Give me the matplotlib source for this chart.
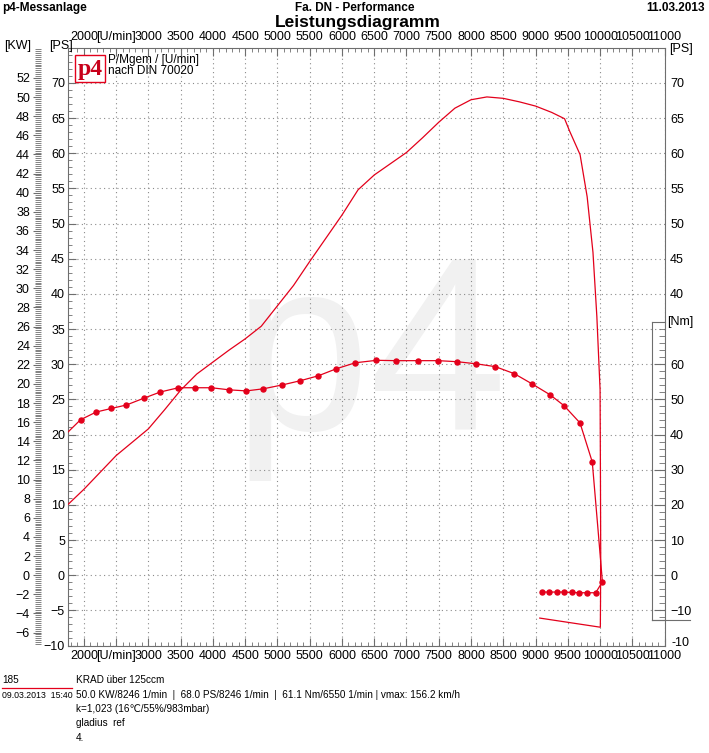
import numpy as np
import matplotlib
matplotlib.use("Agg")
import matplotlib.pyplot as plt
from matplotlib.ticker import MultipleLocator, FixedLocator, FuncFormatter
from matplotlib.lines import Line2D
from matplotlib.patches import Rectangle

plt.rcParams['font.family'] = ['Liberation Sans', 'DejaVu Sans']

# power curve [PS] over engine speed [1/min]
pwr_rpm = [1760, 2000, 2250, 2500, 2750, 3000, 3250, 3500, 3750, 4000, 4250, 4500,
           4750, 5000, 5250, 5500, 5750, 6000, 6250, 6500, 6750, 7000, 7250, 7500,
           7750, 8000, 8246, 8500, 8750, 9000, 9250, 9450, 9530, 9690, 9800, 9890,
           9950, 10000, 10006, 10010, 10007, 10004, 9065]
pwr_ps = [10.1, 12.2, 14.6, 17.0, 18.9, 20.8, 23.5, 26.3, 28.6, 30.3, 32.0, 33.6,
          35.4, 38.3, 41.2, 44.6, 47.9, 51.2, 54.8, 56.9, 58.5, 60.1, 62.2, 64.4,
          66.4, 67.6, 68.0, 67.8, 67.3, 66.7, 65.8, 64.9, 63.1, 59.8, 53.8, 45.9,
          36.8, 26.4, 13.5, 3.1, -3.6, -7.4, -6.1]

# torque curve [Nm]
trq_rpm = [1760, 1949, 2192, 2424, 2661, 2940, 3187, 3466, 3729, 3977, 4256, 4519,
           4782, 5076, 5355, 5634, 5913, 6207, 6535, 6844, 7185, 7494, 7788, 8083,
           8377, 8671, 8946, 9225, 9442, 9689, 9879, 9969, 10036,
           9932, 9802, 9678, 9560, 9441, 9328, 9214, 9096]
trq_nm = [40.8, 44.2, 46.4, 47.4, 48.4, 50.4, 52.1, 53.3, 53.3, 53.3, 52.7, 52.4,
          53.0, 54.1, 55.3, 56.7, 58.7, 60.4, 61.1, 61.0, 61.0, 61.0, 60.7, 60.1,
          59.3, 57.3, 54.4, 51.3, 48.2, 43.3, 32.2, 12.8, -1.9,
          -5.0, -5.0, -5.0, -4.9, -4.8, -4.8, -4.8, -4.8]
trq_marks = [i for i in range(1, len(trq_rpm)) if i != 31]

rpm_ticks = list(range(2000, 11001, 500))
ps_ticks = list(range(-10, 71, 5))
red = '#e3001b'
grey = '#6e6e6e'
W, H = 709, 753


def fx(px):
    return px / W


def fy(py):
    return 1 - py / H


fig = plt.figure(figsize=(7.09, 7.53), dpi=100)

ax = fig.add_axes([fx(67.7), fy(645.5), (664.6 - 67.7) / W, (645.5 - 47.7) / H])
ax.set_xlim(1750, 11000)
ax.set_ylim(-10, 75)

# watermark
ax.text(0.505, 0.36, 'p4', transform=ax.transAxes, fontsize=178, color='#f1f1f1',
        ha='center', va='baseline', zorder=0)

ax.grid(True, which='major', color='#8a8a8a', linestyle=(0, (1, 3)), linewidth=0.8)
ax.xaxis.set_major_locator(FixedLocator(rpm_ticks))
ax.xaxis.set_minor_locator(MultipleLocator(100))
ax.xaxis.set_major_formatter(FuncFormatter(lambda v, p: '[U/min]' if v == 2500 else '%d' % v))
ax.yaxis.set_major_locator(FixedLocator(ps_ticks))
ax.yaxis.set_minor_locator(MultipleLocator(1))
ax.tick_params(which='both', direction='in', top=True, bottom=True, left=True, right=True,
               labeltop=True, labelbottom=True, labelleft=True, labelright=False,
               color=grey, labelsize=9, pad=2)
ax.tick_params(axis='x', which='both', pad=3.5)
ax.tick_params(which='major', length=6)
ax.tick_params(which='minor', length=3)
for s in ax.spines.values():
    s.set_color(grey)

# right PS labels
ax_r = ax.twinx()
ax_r.set_ylim(-10, 75)
ax_r.yaxis.set_major_locator(FixedLocator([40, 45, 50, 55, 60, 65, 70]))
ax_r.tick_params(length=0, labelsize=9, pad=4)
for s in ax_r.spines.values():
    s.set_visible(False)
ax_r.annotate('-10', xy=(1, -10), xycoords=('axes fraction', 'data'), xytext=(5, 2),
              textcoords='offset points', fontsize=9, ha='left', va='center')

# KW scale on the left
kw = ax.secondary_yaxis(-0.0447, functions=(lambda p: p * 0.7355, lambda k: k / 0.7355))
kw.yaxis.set_major_locator(FixedLocator(list(range(-6, 53, 2))))
kw.yaxis.set_minor_locator(FixedLocator(list(np.arange(-7.2, 55.2, 0.2))))
kw.tick_params(which='both', direction='out', color=grey, labelsize=9, pad=2)
kw.tick_params(which='major', length=6)
kw.tick_params(which='minor', length=4, width=0.6)
kw.spines['left'].set_visible(False)

# curves
ax.plot(pwr_rpm, pwr_ps, color=red, linewidth=0.9, zorder=3)
ax_t = ax.twinx()
ax_t.set_ylim(-20, 150)
ax_t.axis('off')
ax_t.plot(trq_rpm, trq_nm, color=red, linewidth=0.9, marker='o', markersize=3.6,
          markevery=trq_marks, zorder=3)

# Nm scale box
nm_lo, nm_hi = -12.75, 72.0
y_lo = 645.5 - (nm_lo / 2 + 10) * (597.8 / 85)
y_hi = 645.5 - (nm_hi / 2 + 10) * (597.8 / 85)
ax_nm = fig.add_axes([fx(652), fy(y_lo), (664.6 - 652) / W, (y_lo - y_hi) / H])
ax_nm.set_ylim(nm_lo, nm_hi)
ax_nm.set_xticks([])
ax_nm.patch.set_alpha(0)
ax_nm.yaxis.tick_right()
ax_nm.yaxis.set_major_locator(FixedLocator([-10, 0, 10, 20, 30, 40, 50, 60]))
ax_nm.yaxis.set_minor_locator(MultipleLocator(2))
ax_nm.tick_params(which='both', direction='in', color=grey, labelsize=9, pad=4)
ax_nm.tick_params(which='major', length=8)
ax_nm.tick_params(which='minor', length=4)
ax_nm.spines['right'].set_visible(False)
for s in ['left', 'top', 'bottom']:
    ax_nm.spines[s].set_color(grey)
fig.add_artist(Line2D([fx(652), fx(690)], [fy(y_lo), fy(y_lo)], color=grey, linewidth=0.8))
fig.text(fx(667), fy(y_hi), '[Nm]', fontsize=9, va='center')

# axis unit labels
fig.text(fx(4), fy(46), '[KW]', fontsize=9, va='center')
fig.text(fx(49), fy(46), '[PS]', fontsize=9, va='center')
fig.text(fx(669), fy(49), '[PS]', fontsize=9, va='center')

# header
fig.text(fx(2), fy(8), 'p4-Messanlage', fontsize=8.5, fontweight='bold', va='center')
fig.text(fx(355), fy(8), 'Fa. DN - Performance', fontsize=8.5, fontweight='bold',
         va='center', ha='center')
fig.text(fx(705), fy(8), '11.03.2013', fontsize=8.5, fontweight='bold', va='center', ha='right')
fig.text(fx(358), fy(23), 'Leistungsdiagramm', fontsize=12.5, fontweight='bold',
         va='center', ha='center')

# logo
fig.add_artist(Rectangle((fx(75), fy(82)), 30 / W, 27 / H, transform=fig.transFigure,
                         facecolor='white', edgecolor=red, linewidth=1, zorder=5))
fig.text(fx(90), fy(70), 'p4', fontsize=17, fontweight='bold', color='#c8001a',
         family='Liberation Serif', ha='center', va='center', zorder=6)
fig.text(fx(108), fy(60), 'P/Mgem / [U/min]', fontsize=8.5, va='center')
fig.text(fx(108), fy(71), 'nach DIN 70020', fontsize=8.5, va='center')

# footer
fs = 7.2
fig.text(fx(2), fy(680), '185', fontsize=fs, va='center')
fig.add_artist(Line2D([fx(2), fx(72)], [fy(688), fy(688)], color=red, linewidth=0.9))
fig.text(fx(2), fy(695), '09.03.2013  15:40', fontsize=6.3, va='center')
foot = ['KRAD über 125ccm',
        '50.0 KW/8246 1/min  |  68.0 PS/8246 1/min  |  61.1 Nm/6550 1/min | vmax: 156.2 km/h',
        'k=1,023 (16\u2103/55%/983mbar)',
        'gladius  ref',
        '4.']
for i, line in enumerate(foot):
    fig.text(fx(76), fy(680 + 14.5 * i), line, fontsize=fs, va='center')

fig.savefig('out.png', dpi=100, facecolor='white')
